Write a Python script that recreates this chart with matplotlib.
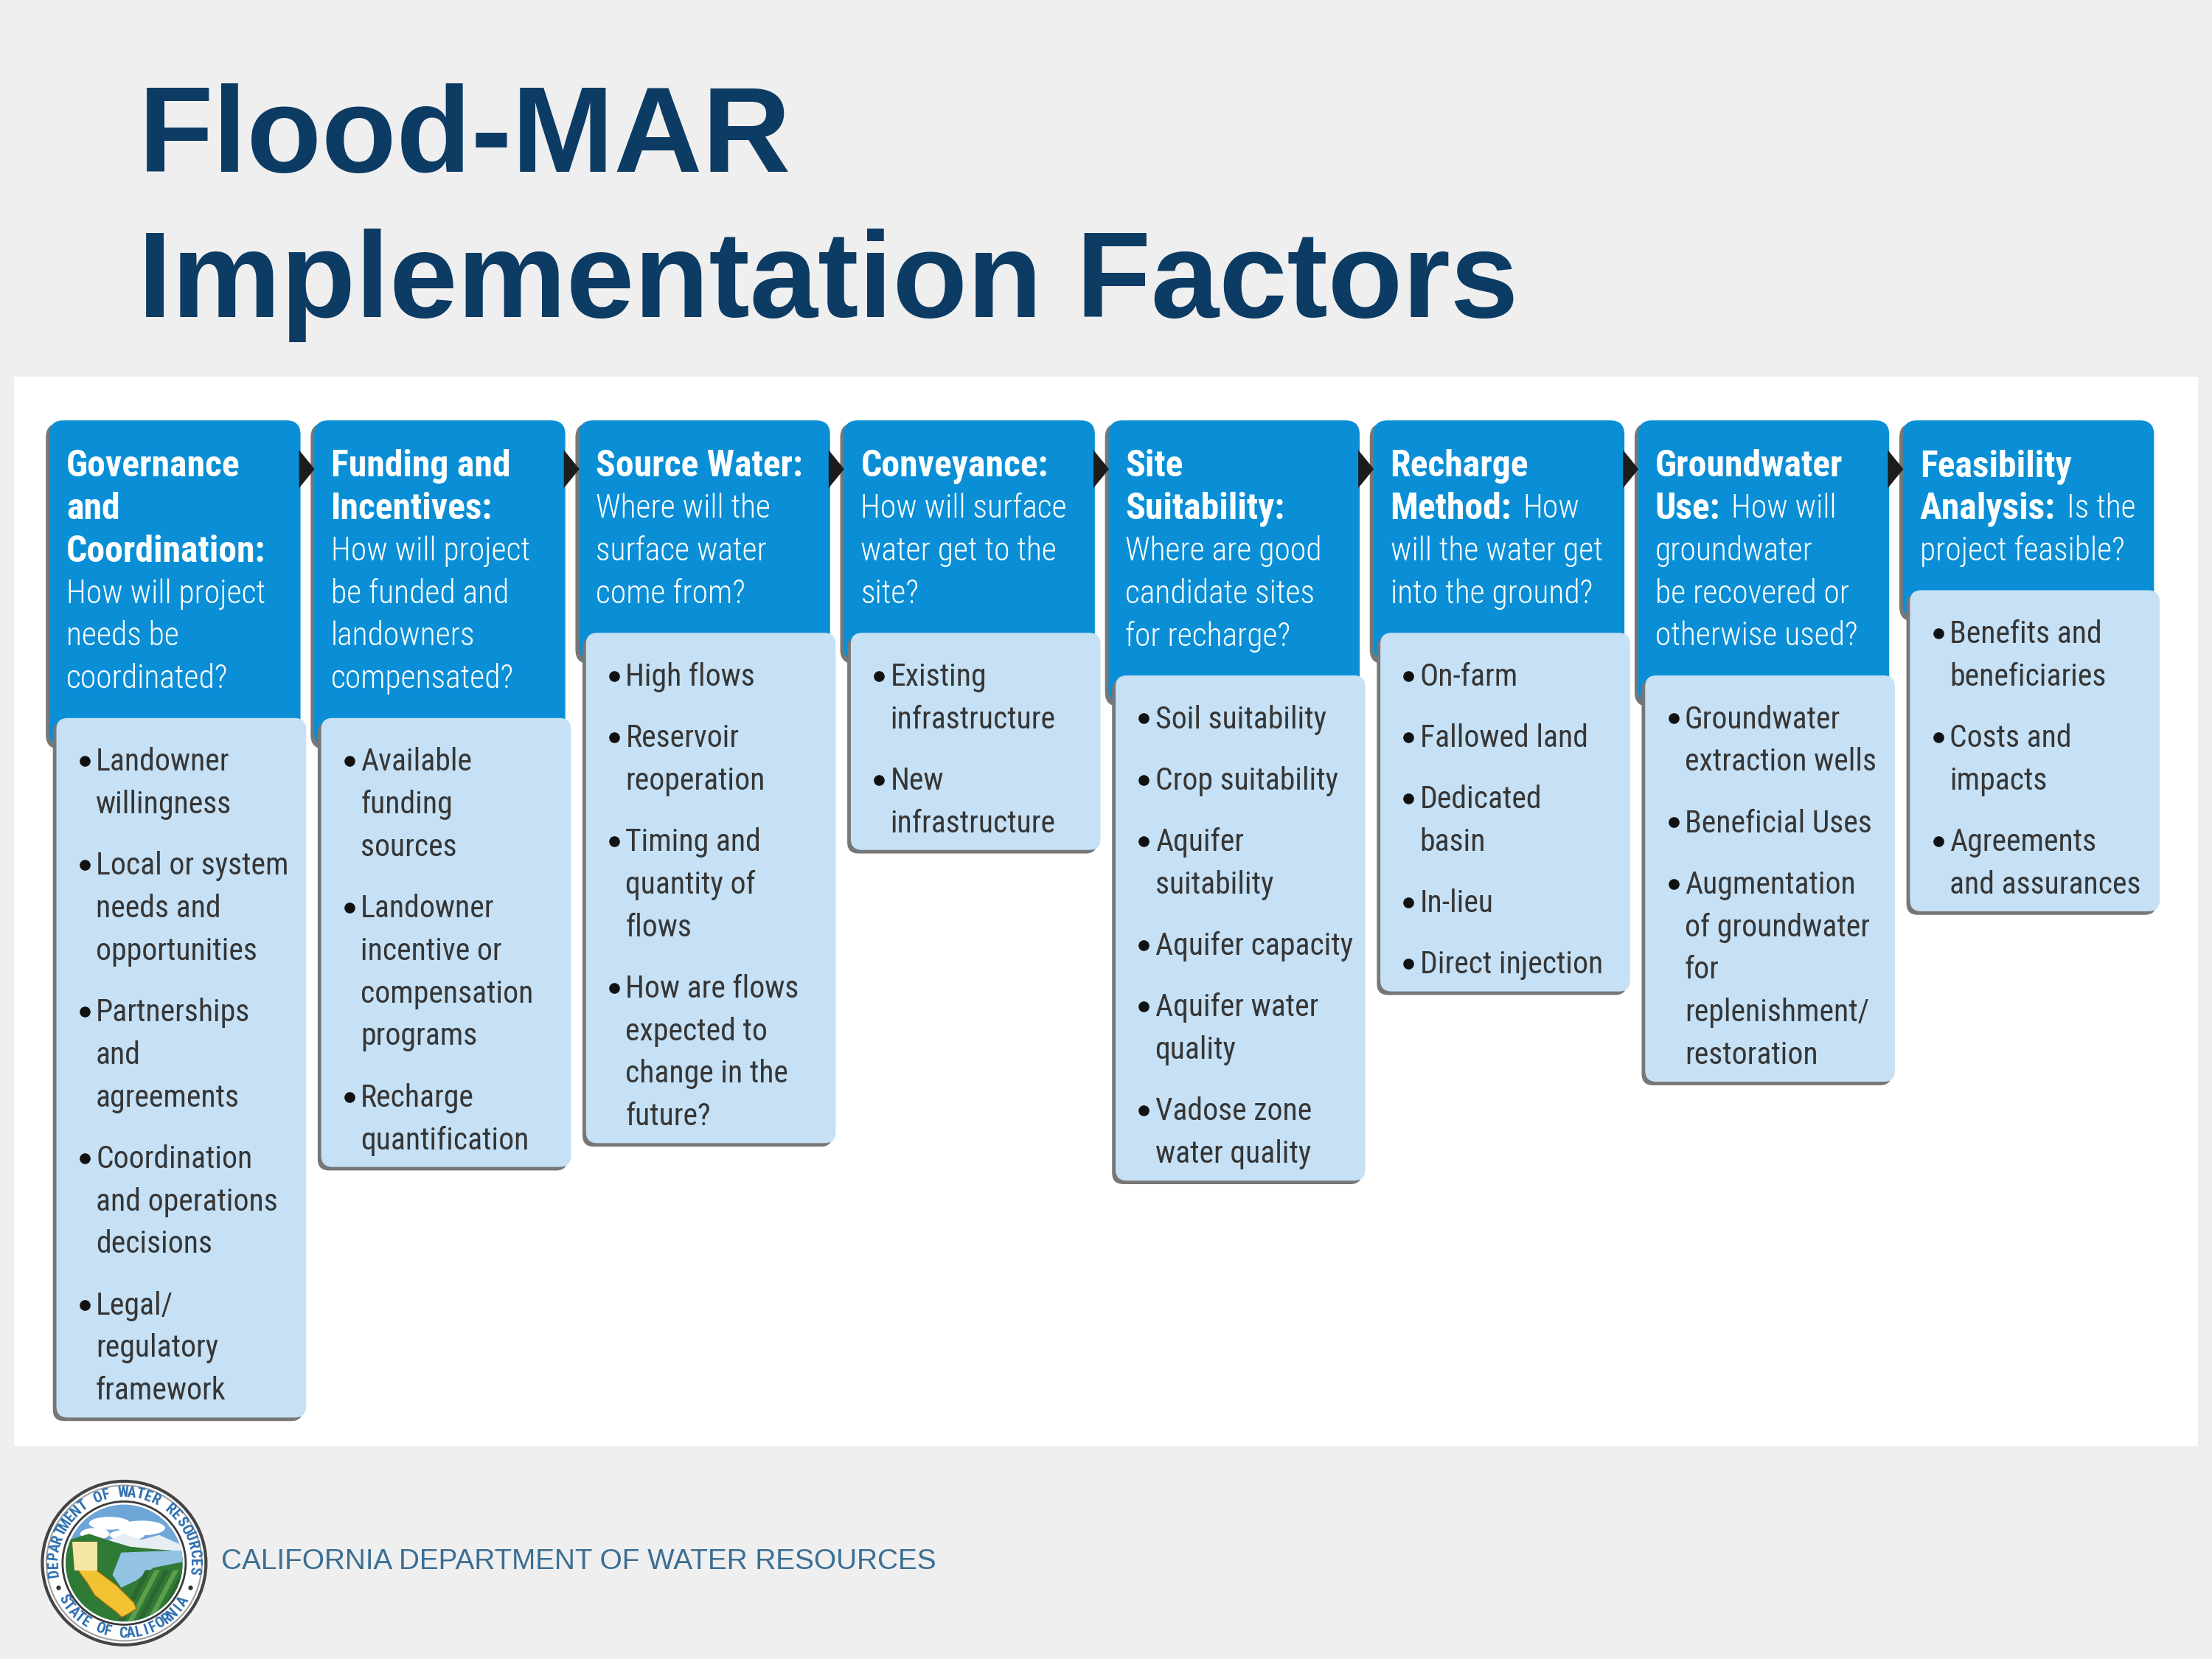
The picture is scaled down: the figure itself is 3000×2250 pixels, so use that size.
import matplotlib
matplotlib.use('Agg')
import matplotlib.pyplot as plt
from matplotlib import font_manager as fm
from matplotlib.patches import FancyBboxPatch, Polygon, Circle, Rectangle, Ellipse
import numpy as np

# ---- content -------------------------------------------------------------
TITLE_LINES = ["Flood-MAR", "Implementation Factors"]
FOOTER = "CALIFORNIA DEPARTMENT OF WATER RESOURCES"
SEAL_TOP = "DEPARTMENT OF WATER RESOURCES"
SEAL_BOTTOM = "STATE OF CALIFORNIA"

STEP_TITLES = [
    "Governance\nand\nCoordination:",
    "Funding and\nIncentives:",
    "Source Water:",
    "Conveyance:",
    "Site\nSuitability:",
    "Recharge\nMethod:",
    "Groundwater\nUse:",
    "Feasibility\nAnalysis:",
]
STEP_QUESTIONS = [
    "How will project\nneeds be\ncoordinated?",
    "How will project\nbe funded and\nlandowners\ncompensated?",
    "Where will the\nsurface water\ncome from?",
    "How will surface\nwater get to the\nsite?",
    "Where are good\ncandidate sites\nfor recharge?",
    "How\nwill the water get\ninto the ground?",
    "How will\ngroundwater\nbe recovered or\notherwise used?",
    "Is the\nproject feasible?",
]
# question starts on the same row as the last title row
QUESTION_INLINE = [False, False, False, False, False, True, True, True]

STEP_FACTORS = [
    ["Landowner\nwillingness", "Local or system\nneeds and\nopportunities",
     "Partnerships\nand\nagreements", "Coordination\nand operations\ndecisions",
     "Legal/\nregulatory\nframework"],
    ["Available\nfunding\nsources", "Landowner\nincentive or\ncompensation\nprograms",
     "Recharge\nquantification"],
    ["High flows", "Reservoir\nreoperation", "Timing and\nquantity of\nflows",
     "How are flows\nexpected to\nchange in the\nfuture?"],
    ["Existing\ninfrastructure", "New\ninfrastructure"],
    ["Soil suitability", "Crop suitability", "Aquifer\nsuitability", "Aquifer capacity",
     "Aquifer water\nquality", "Vadose zone\nwater quality"],
    ["On-farm", "Fallowed land", "Dedicated\nbasin", "In-lieu", "Direct injection"],
    ["Groundwater\nextraction wells", "Beneficial Uses",
     "Augmentation\nof groundwater\nfor\nreplenishment/\nrestoration"],
    ["Benefits and\nbeneficiaries", "Costs and\nimpacts", "Agreements\nand assurances"],
]

# ---- style ---------------------------------------------------------------
BG = '#efefef'
NAVY = '#0c3b64'
HEAD = '#0a8fd6'
LIGHT = '#c6e1f5'
SHADOW = '#777777'
TXT = '#363636'
FOOT_COL = '#3a6e93'

W, H = 1568, 1176          # layout units (1 unit = 3000/1568 px)
SCALE = 3000 / W

installed = {f.name for f in fm.fontManager.ttflist}


def pick_condensed():
    for name in ['Liberation Sans Narrow', 'Roboto Condensed', 'Open Sans Condensed',
                 'DejaVu Sans Condensed']:
        if name in installed:
            return {'family': name}
    for f in fm.fontManager.ttflist:
        if f.name in ('DejaVu Sans', 'Roboto', 'Open Sans', 'Noto Sans') and \
                'condensed' in str(f.stretch):
            return {'family': f.name, 'fontstretch': 'condensed'}
    return {'family': 'Roboto'}


COND = pick_condensed()

fig = plt.figure(figsize=(30, 22.5), dpi=100)
fig.patch.set_facecolor(BG)
ax = fig.add_axes([0, 0, 1, 1])
ax.set_xlim(0, W)
ax.set_ylim(H, 0)
ax.axis('off')
renderer = fig.canvas.get_renderer()


def text_width(s, size, **props):
    t = ax.text(0, 0, s, fontsize=size, **props)
    w = t.get_window_extent(renderer).width / SCALE
    t.remove()
    return w


def fit_size(s, target, cap, **props):
    return min(cap, 20 * target / text_width(s, 20, **props))


BOLD = dict(COND, fontweight='bold')
QLIGHT = dict(COND, fontweight='light')
REG = dict(COND, fontweight='normal')
fs_bold = fit_size("Coordination:", 141, 38, **BOLD)
fs_light = fit_size("How will project", 141, 38, **QLIGHT)
fs_item = fit_size("Aquifer capacity", 140, 38, **REG)

# ---- title, panel, footer --------------------------------------------------
for line, yb in zip(TITLE_LINES, [122, 225]):
    ax.text(98, yb, line, fontsize=119.5, fontweight='bold', family='Liberation Sans',
            color=NAVY, va='baseline', ha='left')

ax.add_patch(Rectangle((10, 267), 1548, 758, fc='white', ec='none', zorder=1))

ax.text(157, 1107, FOOTER, fontsize=27.9, family='Liberation Sans', color=FOOT_COL,
        va='center', ha='left')

# ---- process columns -------------------------------------------------------
COL_X0, COL_STEP, COL_W = 35, 187.7, 178
HEAD_TOP = 298
LINE, ITEM_GAP = 30.2, 43.5


def rbox(x, y, w, h, r, fc, z):
    ax.add_patch(FancyBboxPatch((x, y), w, h, boxstyle=f"round,pad=0,rounding_size={r}",
                                fc=fc, ec='none', zorder=z))


for i in range(len(STEP_TITLES)):
    x0 = COL_X0 + i * COL_STEP
    q_lines = STEP_QUESTIONS[i].split('\n')
    rows = [[(t, BOLD, fs_bold)] for t in STEP_TITLES[i].split('\n')]
    if QUESTION_INLINE[i]:
        rows[-1].append((q_lines[0], QLIGHT, fs_light))
        q_lines = q_lines[1:]
    rows += [[(q, QLIGHT, fs_light)] for q in q_lines]

    y_first = HEAD_TOP + 30
    light_top = y_first + (len(rows) - 1) * LINE + 30

    bullet_rows = []
    y = light_top + 29
    for item in STEP_FACTORS[i]:
        for k, part in enumerate(item.split('\n')):
            bullet_rows.append((y, part, k == 0))
            y += LINE
        y += ITEM_GAP - LINE
    light_bottom = bullet_rows[-1][0] + 21

    # header box + shadow
    hh = light_top + 20 - HEAD_TOP
    rbox(x0 - 2.5, HEAD_TOP + 2, COL_W, hh, 10, SHADOW, 2)
    rbox(x0, HEAD_TOP, COL_W, hh, 10, HEAD, 3)
    # light box + shadow
    lx = x0 + 5
    rbox(lx - 2.5, light_top + 2.5, COL_W - 1, light_bottom - light_top, 8, SHADOW, 4)
    rbox(lx, light_top, COL_W - 1, light_bottom - light_top, 8, LIGHT, 5)

    # header text
    for r, segs in enumerate(rows):
        yy = y_first + r * LINE
        xx = x0 + 12
        for s, props, fs in segs:
            ax.text(xx, yy, s, fontsize=fs, color='white', va='center_baseline',
                    ha='left', zorder=6, **props)
            xx += text_width(s, fs, **props) + fs * 0.22

    # bullets
    for yy, part, first in bullet_rows:
        if first:
            ax.plot(x0 + 25, yy + 1.5, 'o', ms=9.5, color='#111111', zorder=6)
        ax.text(x0 + 33, yy, part, fontsize=fs_item, color=TXT, va='center_baseline',
                ha='left', zorder=6, **REG)

    # arrow to the next step
    if i < len(STEP_TITLES) - 1:
        xr = x0 + COL_W
        ax.add_patch(Polygon([(xr - 1, 319), (xr - 1, 346), (xr + 10, 332.5)],
                             closed=True, fc='#1c1c1c', ec='none', zorder=7))

# ---- DWR seal --------------------------------------------------------------
cx, cy, R = 88, 1108, 58


def P(u, v, r):
    return (cx + u * r, cy - v * r)


ax.add_patch(Circle((cx, cy), R, fc='white', ec='#444444', lw=3, zorder=5))
ax.add_patch(Circle((cx, cy), R * 0.95, fc='none', ec='#a0a0a0', lw=1.5, zorder=5))
ax.add_patch(Circle((cx, cy), R * 0.765, fc='#3a3a3a', ec='none', zorder=5))
ax.add_patch(Circle((cx, cy), R * 0.74, fc='white', ec='none', zorder=5))
ri = R * 0.715
inner = Circle((cx, cy), ri, fc='#6fa6d8', ec='none', zorder=6)
ax.add_patch(inner)

art = []
for (u, v, w, h) in [(-0.25, 0.68, 0.7, 0.22), (0.3, 0.6, 0.8, 0.25), (-0.5, 0.5, 0.5, 0.2),
                     (0.05, 0.48, 0.6, 0.18)]:
    art.append(Ellipse(P(u, v, ri), w * ri, h * ri, fc='white', ec='none'))
art.append(Polygon([P(-1, 0.3, ri), P(-0.6, 0.46, ri), P(-0.3, 0.38, ri), P(0, 0.5, ri),
                    P(0.3, 0.4, ri), P(0.6, 0.48, ri), P(1, 0.3, ri), P(1, 0.15, ri),
                    P(-1, 0.15, ri)], fc='#e6edf3', ec='none'))
art.append(Polygon([P(-1, 0.38, ri), P(-0.6, 0.5, ri), P(-0.3, 0.4, ri), P(0.1, 0.28, ri),
                    P(0.5, 0.24, ri), P(1, 0.2, ri), P(1, -1, ri), P(-1, -1, ri)],
                   fc='#2f7a35', ec='none'))
art.append(Polygon([P(-0.05, 0.18, ri), P(1, 0.22, ri), P(1, 0.02, ri), P(0.5, -0.08, ri),
                    P(0.2, -0.3, ri), P(-0.05, -0.42, ri), P(-0.2, -0.2, ri)],
                   fc='#93c4e4', ec='none'))
for k, a in enumerate(np.arange(-0.1, 1.0, 0.16)):
    art.append(Polygon([P(a, -1, ri), P(a + 0.09, -1, ri), P(a + 0.55, -0.12, ri),
                        P(a + 0.46, -0.12, ri)],
                       fc='#5b9e4c' if k % 2 else '#2c6630', ec='none'))
ca = [(-0.886, 0.359), (-0.464, 0.359), (-0.464, -0.127), (-0.127, -0.38), (0.169, -0.675),
      (0.211, -0.781), (0.084, -0.865), (-0.042, -0.928), (-0.127, -0.844), (-0.295, -0.717),
      (-0.506, -0.549), (-0.633, -0.338), (-0.759, -0.169), (-0.844, 0)]
art.append(Polygon([P(u, v, ri) for u, v in ca], fc='#f1c232', ec='#8a6a16', lw=1))
art.append(Polygon([P(u, v, ri) for u, v in ca[:3] + [(-0.844, -0.127)]],
                   fc='#f6e6a6', ec='none'))
for p in art:
    p.set_zorder(7)
    ax.add_patch(p)
    p.set_clip_path(inner)

seal_font = dict(COND, fontweight='bold')
rt = R * 0.86
for ch, a in zip(SEAL_TOP, np.linspace(188, -6, len(SEAL_TOP))):
    x, y = P(np.cos(np.radians(a)), np.sin(np.radians(a)), rt)
    ax.text(x, y, ch, rotation=a - 90, rotation_mode='anchor', ha='center', va='center',
            fontsize=14.5, color='#2d6fb0', zorder=8, **seal_font)
for ch, a in zip(SEAL_BOTTOM, np.linspace(211, 327, len(SEAL_BOTTOM))):
    x, y = P(np.cos(np.radians(a)), np.sin(np.radians(a)), rt)
    ax.text(x, y, ch, rotation=a + 90, rotation_mode='anchor', ha='center', va='center',
            fontsize=14.5, color='#2d6fb0', zorder=8, **seal_font)
for a in (200, -20):
    x, y = P(np.cos(np.radians(a)), np.sin(np.radians(a)), rt)
    ax.plot(x, y, 'o', ms=3.5, color='#333333', zorder=8)

fig.savefig('out.png', dpi=100, facecolor=BG)
